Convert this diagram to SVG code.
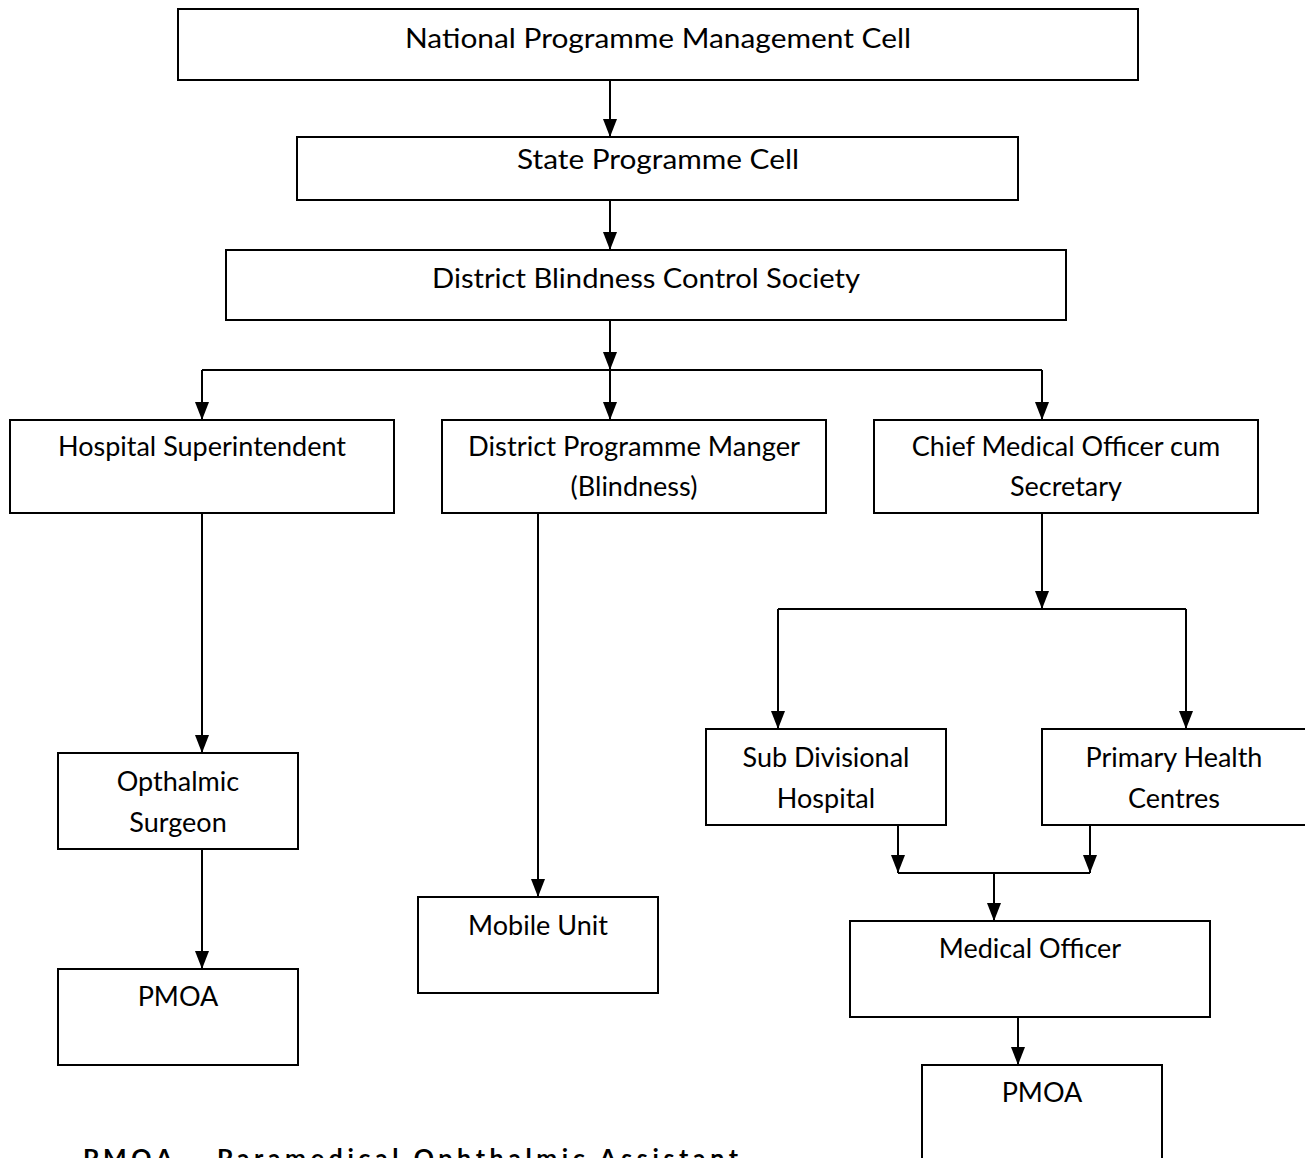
<svg xmlns="http://www.w3.org/2000/svg" width="1305" height="1158" viewBox="0 0 1305 1158">
<style>
.box{fill:#fff;stroke:#000;stroke-width:2}
.t{font-family:Lato,"Open Sans",sans-serif;font-size:27px;fill:#000;text-anchor:middle}
.c{fill:none;stroke:#000;stroke-width:2}
.foot{font-family:Lato,"Open Sans",sans-serif;font-size:25px;font-weight:bold;fill:#000}
</style>
<defs>
<marker id="ah" viewBox="0 0 18 14" refX="18" refY="7" markerWidth="18" markerHeight="14" markerUnits="userSpaceOnUse" orient="auto">
<path d="M0,0 L18,7 L0,14 Z" fill="#000"/>
</marker>
</defs>
<g id="connectors">
<path class="c" d="M610,80 V137" marker-end="url(#ah)"/>
<path class="c" d="M610,200 V250" marker-end="url(#ah)"/>
<path class="c" d="M610,320 V370" marker-end="url(#ah)"/>
<path class="c" d="M202,370 H1042"/>
<path class="c" d="M202,370 V420" marker-end="url(#ah)"/>
<path class="c" d="M610,370 V420" marker-end="url(#ah)"/>
<path class="c" d="M1042,370 V420" marker-end="url(#ah)"/>
<path class="c" d="M202,513 V753" marker-end="url(#ah)"/>
<path class="c" d="M202,849 V969" marker-end="url(#ah)"/>
<path class="c" d="M538,513 V897" marker-end="url(#ah)"/>
<path class="c" d="M1042,513 V609" marker-end="url(#ah)"/>
<path class="c" d="M778,609 H1186"/>
<path class="c" d="M778,609 V729" marker-end="url(#ah)"/>
<path class="c" d="M1186,609 V729" marker-end="url(#ah)"/>
<path class="c" d="M898,825 V873" marker-end="url(#ah)"/>
<path class="c" d="M1090,825 V873" marker-end="url(#ah)"/>
<path class="c" d="M898,873 H1090"/>
<path class="c" d="M994,873 V921" marker-end="url(#ah)"/>
<path class="c" d="M1018,1017 V1065" marker-end="url(#ah)"/>
</g>
<g id="n-national"><rect class="box" x="178" y="9" width="960" height="71"/><text class="t" x="658" y="48" textLength="506" lengthAdjust="spacingAndGlyphs">National Programme Management Cell</text></g>
<g id="n-state"><rect class="box" x="297" y="137" width="721" height="63"/><text class="t" x="658" y="169" textLength="282" lengthAdjust="spacingAndGlyphs">State Programme Cell</text></g>
<g id="n-dbcs"><rect class="box" x="226" y="250" width="840" height="70"/><text class="t" x="646" y="288" textLength="428" lengthAdjust="spacingAndGlyphs">District Blindness Control Society</text></g>
<g id="n-hs"><rect class="box" x="10" y="420" width="384" height="93"/><text class="t" x="202" y="456">Hospital Superintendent</text></g>
<g id="n-dpm"><rect class="box" x="442" y="420" width="384" height="93"/><text class="t" x="634" y="456" textLength="332" lengthAdjust="spacingAndGlyphs">District Programme Manger</text><text class="t" x="634" y="496">(Blindness)</text></g>
<g id="n-cmo"><rect class="box" x="874" y="420" width="384" height="93"/><text class="t" x="1066" y="456">Chief Medical Officer cum</text><text class="t" x="1066" y="496">Secretary</text></g>
<g id="n-os"><rect class="box" x="58" y="753" width="240" height="96"/><text class="t" x="178" y="791">Opthalmic</text><text class="t" x="178" y="832">Surgeon</text></g>
<g id="n-pmoa1"><rect class="box" x="58" y="969" width="240" height="96"/><text class="t" x="178" y="1006">PMOA</text></g>
<g id="n-mobile"><rect class="box" x="418" y="897" width="240" height="96"/><text class="t" x="538" y="935">Mobile Unit</text></g>
<g id="n-sdh"><rect class="box" x="706" y="729" width="240" height="96"/><text class="t" x="826" y="767">Sub Divisional</text><text class="t" x="826" y="808">Hospital</text></g>
<g id="n-phc"><path class="box" d="M1310,729 H1042 V825 H1310"/><text class="t" x="1174" y="767">Primary Health</text><text class="t" x="1174" y="808">Centres</text></g>
<g id="n-mo"><rect class="box" x="850" y="921" width="360" height="96"/><text class="t" x="1030" y="958">Medical Officer</text></g>
<g id="n-pmoa2"><path class="box" d="M922,1165 V1065 H1162 V1165"/><text class="t" x="1042" y="1102">PMOA</text></g>
<text class="foot" x="83" y="1167" textLength="655" lengthAdjust="spacing">PMOA – Paramedical Ophthalmic Assistant</text>
</svg>
